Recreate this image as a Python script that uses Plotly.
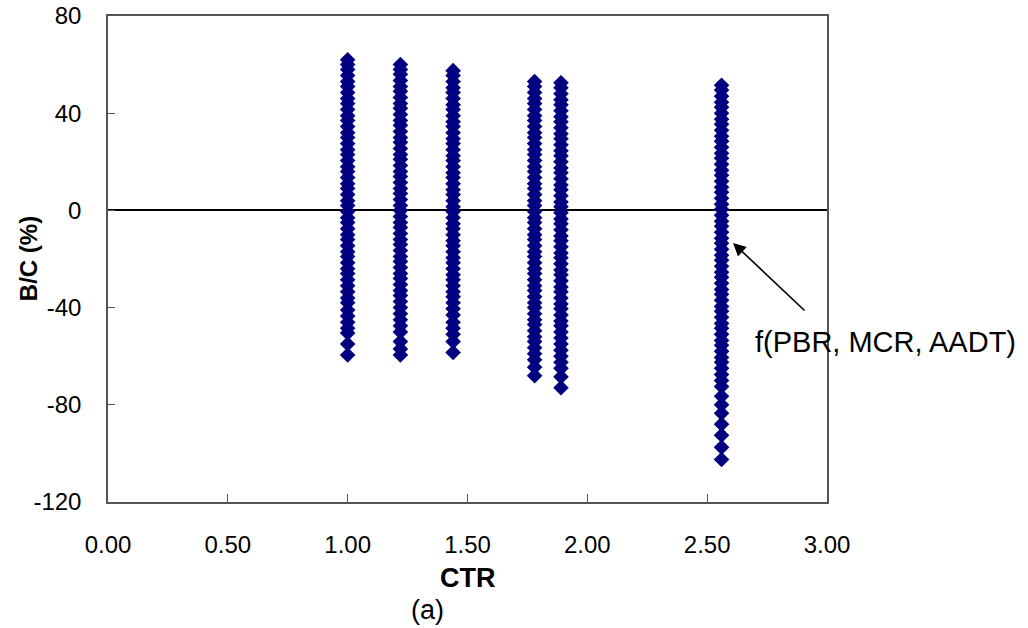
import plotly.graph_objects as go

# CTR columns and B/C (%) values
ctr_values = [1.00, 1.22, 1.44, 1.78, 1.89, 2.56]

bc_100 = [62, 60, 58, 55.5, 53, 51, 48.5, 46, 44, 41.5, 39, 37, 34.5, 32, 30, 27.5, 25, 23,
          20.5, 18, 16, 13.5, 11, 9, 6.5, 4, 2, -0.5, -3, -5, -7.5, -10, -12, -14.5, -17, -19,
          -21.5, -24, -26, -28.5, -31, -33.5, -36, -38, -41, -43.5, -46, -48.5, -50.5, -55, -59.5]
bc_122 = [60, 58, 56, 53.5, 51, 49, 46.5, 44, 42, 39.5, 37, 35, 32.5, 30, 28, 25.5, 23, 21,
          18.5, 16, 14, 11.5, 9, 7, 4.5, 2, 0, -2.5, -5, -7, -9.5, -12, -14, -16.5, -19, -21,
          -23.5, -26, -28, -30.5, -33, -35, -37.5, -40, -42.5, -45, -47.5, -50, -54, -57, -59.5]
bc_144 = [57.5, 55.5, 53, 50.5, 48.5, 46, 43.5, 41.5, 39, 36.5, 34.5, 32, 29.5, 27.5, 25, 22.5,
          20.5, 18, 15.5, 13.5, 11, 8.5, 6.5, 4, 1.5, -0.5, -3, -5.5, -7.5, -10, -12.5, -14.5,
          -17, -19.5, -21.5, -24, -26.5, -28.5, -31, -33.5, -35.5, -38, -40.5, -43, -46, -48.5,
          -51, -54, -58.5]
bc_178 = [53, 51, 48.5, 46, 44, 41.5, 39, 37, 34.5, 32, 30, 27.5, 25, 23, 20.5, 18, 16, 13.5,
          11, 9, 6.5, 4, 2, -0.5, -3, -5, -7.5, -10, -12, -14.5, -17, -19, -21.5, -24, -26,
          -28.5, -31, -33, -35.5, -38, -40, -42.5, -45, -47, -49.5, -52, -54, -56.5, -59, -61.5,
          -64.5, -68]
bc_189 = [52.5, 50.5, 48, 45.5, 43.5, 41, 38.5, 36.5, 34, 31.5, 29.5, 27, 24.5, 22.5, 20, 17.5,
          15.5, 13, 10.5, 8.5, 6, 3.5, 1.5, -1, -3.5, -5.5, -8, -10.5, -12.5, -15, -17.5, -19.5,
          -22, -24.5, -26.5, -29, -31.5, -33.5, -36, -38.5, -40.5, -43, -45.5, -47.5, -50, -52.5,
          -55, -57.5, -60, -62.5, -65, -68.5, -73]
bc_256 = [51.5, 49.5, 47, 44.5, 42.5, 40, 37.5, 35.5, 33, 30.5, 28.5, 26, 23.5, 21.5, 19, 16.5,
          14.5, 12, 9.5, 7.5, 5, 2.5, 0.5, -2, -4.5, -6.5, -9, -11.5, -13.5, -16, -18.5, -20.5,
          -23, -25.5, -27.5, -30, -32.5, -34.5, -37, -39.5, -41.5, -44, -46.5, -48.5, -51, -53.5,
          -55.5, -58, -60.5, -62.5, -65, -67.5, -70, -72.5, -76.5, -80, -83.5, -88, -92.5, -97.5,
          -102.5]

bc_columns = [bc_100, bc_122, bc_144, bc_178, bc_189, bc_256]

x_ticks = [0, 0.5, 1.0, 1.5, 2.0, 2.5, 3.0]
x_ticktext = ["0.00", "0.50", "1.00", "1.50", "2.00", "2.50", "3.00"]
y_ticks = [80, 40, 0, -40, -80, -120]
y_ticktext = ["80", "40", "0", "-40", "-80", "-120"]

xs, ys = [], []
for c, vals in zip(ctr_values, bc_columns):
    xs += [c] * len(vals)
    ys += vals

FONT = "Arial, Liberation Sans, sans-serif"

fig = go.Figure()
fig.add_trace(go.Scatter(
    x=xs, y=ys, mode="markers",
    marker=dict(symbol="diamond", size=12, color="#000080", line=dict(width=0)),
    showlegend=False, cliponaxis=False,
))

fig.update_layout(
    width=1028, height=628,
    margin=dict(l=108, r=201, t=16, b=126),
    paper_bgcolor="white", plot_bgcolor="white",
    font=dict(family=FONT, size=24, color="black"),
    xaxis=dict(range=[0, 3], tickvals=x_ticks, ticktext=x_ticktext, automargin=False,
               showgrid=False, zeroline=False, showline=True, mirror=True,
               linecolor="#555555", linewidth=1.5, ticks="inside", ticklen=8,
               tickcolor="#555555", tickwidth=1, ticklabelstandoff=20),
    yaxis=dict(range=[-120, 80], tickvals=y_ticks, ticktext=y_ticktext, automargin=False,
               showgrid=False, zeroline=True, zerolinecolor="black", zerolinewidth=1.5,
               showline=True, mirror=True, ticklabeloverflow="allow",
               linecolor="#555555", linewidth=1.5, ticks="inside", ticklen=7,
               tickcolor="#555555", tickwidth=1, ticklabelstandoff=20),
    annotations=[
        dict(text="<b>B/C (%)</b>", xref="paper", yref="paper", x=-0.111, y=0.5,
             textangle=-90, showarrow=False, font=dict(size=24),
             xanchor="center", yanchor="middle"),
        dict(text="<b>CTR</b>", xref="paper", yref="paper", x=0.5, y=-0.156,
             showarrow=False, font=dict(size=27), xanchor="center", yanchor="middle"),
        dict(text="(a)", xref="paper", yref="paper", x=0.4437, y=-0.222,
             showarrow=False, font=dict(size=27), xanchor="center", yanchor="middle"),
        dict(text="", x=2.608, y=-13.4, xref="x", yref="y", showarrow=True,
             ax=73, ay=69, arrowhead=2, arrowsize=1.6, arrowwidth=1.6, arrowcolor="black"),
        dict(text="f(PBR, MCR, AADT)", x=2.69, y=-54, xref="x", yref="y",
             showarrow=False, xanchor="left", yanchor="middle", font=dict(size=29)),
    ],
)

# remove the browser's default 8px body margin so the figure fills the window
fig.write_html("out.html", config={"displayModeBar": False},
               post_script="document.body.style.margin='0';")
